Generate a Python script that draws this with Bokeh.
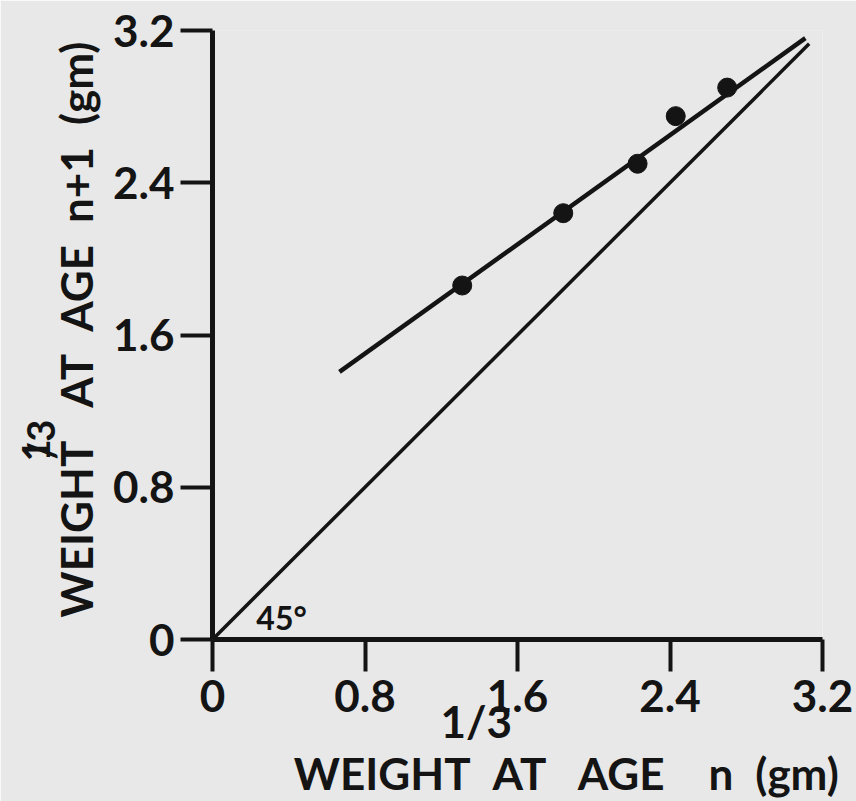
import math
from bokeh.plotting import figure
from bokeh.models import Range1d, FixedTicker, Label, Title
from bokeh.embed import file_html
from bokeh.resources import INLINE

# ---- data (cube root of weight, gm^(1/3)) ----
weight_n = [1.31, 1.84, 2.23, 2.43, 2.70]
weight_n1 = [1.86, 2.24, 2.50, 2.75, 2.90]
fit_x = [0.666, 3.11]
fit_y = [1.406, 3.16]
diag_x = [0.0, 3.13]
diag_y = [0.0, 3.13]
tick_values = [0, 0.8, 1.6, 2.4, 3.2]
tick_labels = ["0", "0.8", "1.6", "2.4", "3.2"]

FONT = "Lato"
INK = "#141414"
BG = "#e8e8e8"

W, H = 856, 801
LEFT, RIGHT, TOP, BOTTOM = 212, 34, 30, 161
XMAX = YMAX = 3.2

p = figure(width=W, height=H, output_backend="svg", toolbar_location=None,
           x_range=Range1d(0, XMAX), y_range=Range1d(0, YMAX),
           min_border_left=LEFT, min_border_right=RIGHT,
           min_border_top=TOP, min_border_bottom=BOTTOM)
p.background_fill_color = BG
p.border_fill_color = BG
p.outline_line_color = None
p.grid.visible = False

for ax in (p.xaxis[0], p.yaxis[0]):
    ax.ticker = FixedTicker(ticks=tick_values)
    ax.major_label_overrides = {v: s for v, s in zip(tick_values, tick_labels)}
    ax.axis_line_width = 5
    ax.axis_line_color = INK
    ax.major_tick_line_width = 4
    ax.major_tick_line_color = INK
    ax.major_tick_out = 32
    ax.major_tick_in = 0
    ax.minor_tick_line_color = None
    ax.major_label_text_font = FONT
    ax.major_label_text_font_style = "bold"
    ax.major_label_text_font_size = "44px"
    ax.major_label_text_color = INK
p.xaxis[0].major_label_standoff = 8
p.yaxis[0].major_label_standoff = 6

# x-axis title: exponent line above the main line (padding spaces shift them)
xa = p.xaxis[0]
xa.axis_label = ("1/3\u2003\u2002\u2002\u2009\n"
                 "\u2003\u2003\u2009\u2002\u2009WEIGHT\u2002AT\u2002 AGE\u2002\u2002n\u2002(gm)")
xa.axis_label_text_font = FONT
xa.axis_label_text_font_style = "bold"
xa.axis_label_text_font_size = "44px"
xa.axis_label_text_line_height = 1.0
xa.axis_label_text_color = INK
xa.axis_label_standoff = -20

# lines and points
p.line(diag_x, diag_y, line_color=INK, line_width=3.5)
p.line(fit_x, fit_y, line_color=INK, line_width=4.5)
p.scatter(weight_n, weight_n1, size=19, fill_color=INK, line_color=INK)


def title(text, side, size, offset, standoff, valign="bottom"):
    t = Title(text=text, align="left", offset=offset, standoff=standoff,
              vertical_align=valign,
              text_font=FONT, text_font_style="bold",
              text_font_size=f"{size}px", text_color=INK)
    p.add_layout(t, side)


# y-axis title (rotated, reading upward)
title("WEIGHT\u2003AT\u2002AGE\u2002n+1\u2002(gm)", "left", 44, 22, 13, "top")
title("/3", "left", 38, 180, -53, "top")
title("1", "left", 38, 178, -17, "top")

# 45 degree annotation inside the frame
p.add_layout(Label(x=0.23, y=0.015, text="45°", text_font=FONT,
                   text_font_style="bold", text_font_size="32px",
                   text_color=INK))

open("out.html", "w").write(file_html(p, INLINE))
